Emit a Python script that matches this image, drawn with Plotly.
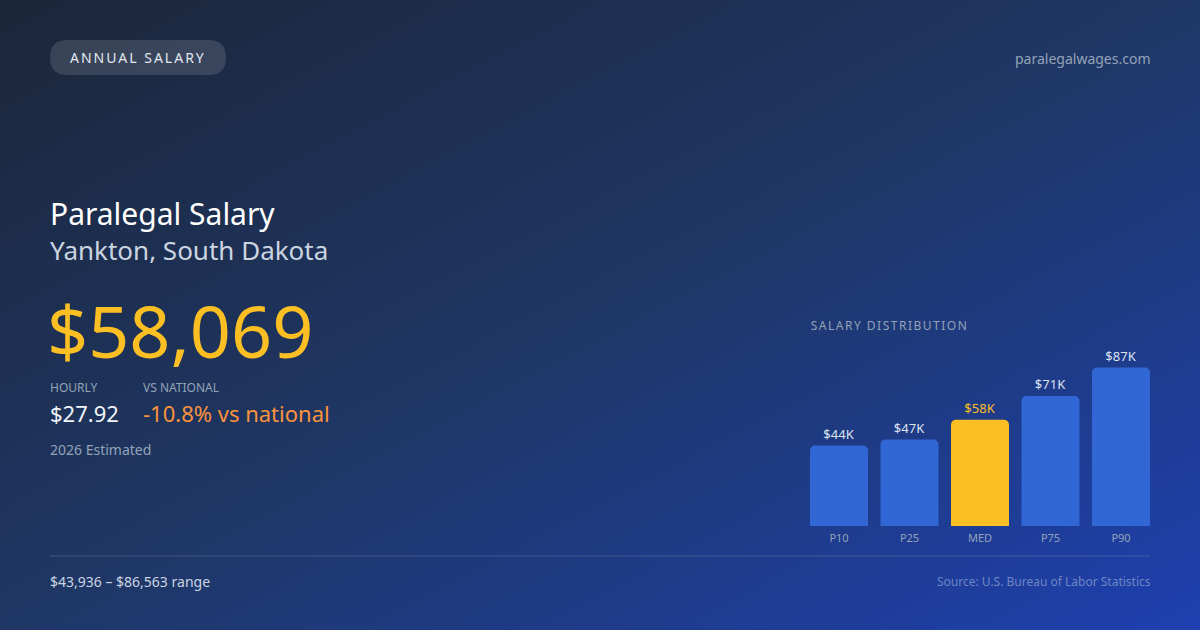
import base64
import plotly.graph_objs as go

# salary distribution (annual, USD)
percentiles = ["P10", "P25", "MED", "P75", "P90"]
salaries = [43936, 47200, 58069, 71000, 86563]
median_salary = 58069
hourly_wage = 27.92
vs_national = -10.8
range_low = 43936
range_high = 86563

W, H = 1200, 630
FONT = "Noto Sans"


def px(x):
    return x / W


def py(y):
    return 1 - y / H


bar_labels = ["$%dK" % round(v / 1000) for v in salaries]
bar_colors = ["#fbbf24" if p == "MED" else "#3167d4" for p in percentiles]
label_colors = ["#fbbf24" if p == "MED" else "#dbe3f0" for p in percentiles]

bars = go.Bar(
    x=percentiles, y=salaries,
    marker=dict(color=bar_colors, cornerradius=5, line_width=0),
    text=bar_labels, textposition="outside",
    textfont=dict(family=FONT, size=13, color=label_colors),
    cliponaxis=False, hoverinfo="skip",
)

# diagonal background gradient as an inline svg
svg = ('<svg xmlns="http://www.w3.org/2000/svg" width="1200" height="630">'
       '<defs><linearGradient id="g" x1="0" y1="0" x2="1" y2="1">'
       '<stop offset="0" stop-color="#1b2639"/>'
       '<stop offset="0.5" stop-color="#1f3766"/>'
       '<stop offset="1" stop-color="#1e40b0"/>'
       '</linearGradient></defs>'
       '<rect width="1200" height="630" fill="url(#g)"/></svg>')
bg_src = "data:image/svg+xml;base64," + base64.b64encode(svg.encode()).decode()


def pill(x0, y0, x1, y1, r):
    # rounded rect path in paper coords
    rx, ry = r / W, r / H
    X0, X1, Y0, Y1 = px(x0), px(x1), py(y1), py(y0)
    return (f"M {X0+rx},{Y1} L {X1-rx},{Y1} Q {X1},{Y1} {X1},{Y1-ry} "
            f"L {X1},{Y0+ry} Q {X1},{Y0} {X1-rx},{Y0} L {X0+rx},{Y0} "
            f"Q {X0},{Y0} {X0},{Y0+ry} L {X0},{Y1-ry} Q {X0},{Y1} {X0+rx},{Y1} Z")


def txt(x, y, s, size, color, anchor="left"):
    # small nudge for the annotation's inner padding
    if anchor == "left":
        x -= 2
    elif anchor == "right":
        x += 3
    return dict(x=px(x), y=py(y), xref="paper", yref="paper", text=s,
                showarrow=False, xanchor=anchor, yanchor="middle",
                font=dict(family=FONT, size=size, color=color))


annotations = [
    txt(138, 57, "ANNUAL SALARY", 14, "#e2e8f0", "center"),
    txt(1150, 58, "paralegalwages.com", 14, "#94a3b8", "right"),
    txt(50, 213, "Paralegal Salary", 30, "#ffffff"),
    txt(50, 250, "Yankton, South Dakota", 26, "#cbd5e1"),
    txt(47, 330, "${:,}".format(median_salary), 72, "#fbbf24"),
    txt(50, 387, "HOURLY", 12, "#94a3b8"),
    txt(50, 413, "${:.2f}".format(hourly_wage), 22, "#f1f5f9"),
    txt(143, 387, "VS NATIONAL", 12, "#94a3b8"),
    txt(143, 413, "{:.1f}% vs national".format(vs_national), 22, "#fb923c"),
    txt(50, 449, "2026 Estimated", 14, "#94a3b8"),
    txt(889, 325, "SALARY DISTRIBUTION", 12, "#94a3b8", "center"),
    txt(50, 581, "${:,} – ${:,} range".format(range_low, range_high), 14, "#cbd5e1"),
    txt(1150, 581, "Source: U.S. Bureau of Labor Statistics", 12, "#6f86c4", "right"),
]

shapes = [
    dict(type="path", path=pill(50, 40, 226, 75, 17.5), xref="paper", yref="paper",
         fillcolor="rgba(255,255,255,0.13)", line_width=0, layer="below"),
    dict(type="line", xref="paper", yref="paper", x0=px(50), x1=px(1150),
         y0=py(556), y1=py(556), line=dict(color="rgba(148,163,184,0.3)", width=1)),
]

fig = go.Figure(data=[bars])
fig.update_layout(
    width=W, height=H,
    margin=dict(l=0, r=0, t=0, b=0),
    paper_bgcolor="#1f3560", plot_bgcolor="rgba(0,0,0,0)",
    showlegend=False, bargap=0.177,
    images=[dict(source=bg_src, xref="paper", yref="paper", x=0, y=1,
                 sizex=1, sizey=1, sizing="stretch", xanchor="left",
                 yanchor="top", layer="below")],
    xaxis=dict(domain=[px(803.75), px(1156.25)], showgrid=False, zeroline=False,
               showline=False, ticks="", ticklabelstandoff=4,
               tickfont=dict(family=FONT, size=11, color="#94a3b8")),
    yaxis=dict(domain=[py(526), py(343)], range=[0, 100000], visible=False,
               showgrid=False, zeroline=False),
    annotations=annotations, shapes=shapes,
)

# page margin off, and letter spacing on the two small caps labels
post = """
document.body.style.margin = '0';
document.body.style.overflow = 'hidden';
document.querySelectorAll('.annotation-text').forEach(function (t) {
    if (t.textContent === 'ANNUAL SALARY') { t.style.letterSpacing = '2px'; }
    if (t.textContent === 'SALARY DISTRIBUTION') { t.style.letterSpacing = '1.5px'; }
});
"""

fig.write_html("out.html", post_script=post,
               config={"displayModeBar": False, "staticPlot": True})
